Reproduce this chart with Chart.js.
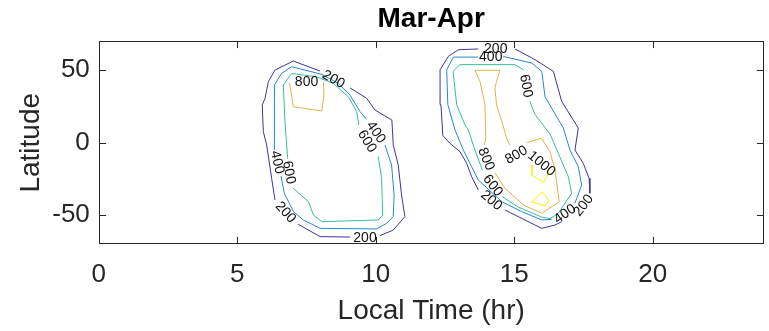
<!DOCTYPE html>
<html>
<head>
<meta charset="utf-8">
<script src="https://cdn.jsdelivr.net/npm/chart.js@4.4.1/dist/chart.umd.min.js"></script>
<style>
  html, body { margin: 0; padding: 0; background: #fff; }
  #wrap { width: 769px; height: 331px; }
</style>
</head>
<body>
<div id="wrap"><canvas id="chart" width="769" height="331"></canvas></div>
<script>
// axis ticks
const xTicks = [0, 5, 10, 15, 20];
const yTicks = [-50, 0, 50];

// contour levels and their colours (parula)
const levels = [200, 400, 600, 800, 1000];
const levelColors = ["#3b3599", "#2387d9", "#35bca0", "#e0b44c", "#f5f20a"];

// contour lines, [local time, latitude]; null = break under a label
const leftC200 = [[9.07,37.9],[9.67,30.7],[9.97,22.6],[10.58,15.7],[10.63,-1.5],[10.81,-15.3],[10.93,-36],[11.05,-50.9],[10.63,-60.2],[10.15,-64],null,
  [9.07,-65],[7.99,-64.7],[7.2,-56.2],null,[6.36,-39.4],[6.24,-24.5],[6.06,-1.5],[5.94,7.7],[5.9,26],[6.0,30.6],[6.12,42.1],[6.36,50.2],[7.02,56.4],[7.99,49.5]];
const leftC400 = [[10.33,-1.5],[10.57,-15.3],[10.66,-36],[10.63,-50.9],[10.39,-55.5],[10.03,-59.4],[7.99,-59],[7.38,-53.2],[7.03,-47.5],[6.7,-35],[6.58,-23],null,
  [6.35,-5],[6.33,10],[6.33,26],[6.36,39.9],[6.6,47.9],[6.96,52.5],[8.05,47.2],[8.65,40.9],[9.07,32.9],[9.43,21.5],[9.67,16.2]];
const leftC600 = [[10.09,-9.6],[10.21,-24.5],[10.25,-49.8],[10.09,-53.2],[8.05,-54.4],[7.75,-49.8],[7.57,-40.6],[7.02,-31.4],null,
  [6.82,-11],[6.72,14.5],[6.66,39.9],[6.96,47.8],[7.87,45.5],[8.47,40.9],[9.01,31.7],[9.31,21.5],[9.39,12.3]];
const leftC800 = [[8.11,42.1],[8.13,33],[8.05,21.9],[7.02,24.9],[6.9,39.9],[6.88,41.5]];

const rightC200 = [[15.03,64.7],[15.75,57.3],[16.41,49.3],[16.71,28.6],[17.31,10.2],[17.19,-5],[17.49,-14.2],[17.7,-24.5],[17.73,-34.8],null,
  [16.71,-54.4],[16.47,-56.7],[15.99,-59],[15.39,-53.3],[14.66,-46.3],null,
  [13.7,-32.6],[13.46,-23.4],[13.28,-14.1],[13.04,-6.1],[12.68,-0.4],[12.42,5],[12.35,26.3],[12.32,50.4],[12.62,59.6],[12.98,64.2],[13.7,64.7]];
const rightC400 = [[14.6,59.6],[15.63,55],[15.99,49.3],[16.11,31.7],[16.77,10.2],[17.01,-5],[17.31,-16.5],[17.43,-29.2],[17.19,-41.7],null,
  [16.35,-52.8],[15.99,-53.2],[15.27,-47.5],[14.55,-40.6],[13.7,-25.7],[13.46,-16.5],[13.16,-5],[12.86,8.8],[12.6,26.3],[12.56,50.3],[12.8,59.1],[13.7,59.1]];
const rightC600 = [[15.56,28.6],[15.75,19.4],[16.29,6],[16.59,-7.3],[16.95,-23.4],[17.07,-34.8],[16.59,-48.6],[16.29,-52.3],[15.99,-51.2],[15.15,-44.4],[14.55,-37],null,
  [13.85,-19],[13.58,-5],[13.34,8.8],[13.22,12.4],[12.92,26.3],[12.79,49.3],[13.04,53.9],[15.03,53.9],[15.33,50.4]];
const rightC800 = [[13.92,-1.5],[13.97,3.3],[13.94,26.3],[13.76,42.4],[13.58,50],[14.48,50],[14.36,42.4],[14.3,37.8],[14.36,26],[14.55,14.8],[14.72,3.3],[14.84,-1.5],null,
  [15.45,0.1],[15.98,3.1],[16.29,-6.1],[16.47,-18.8],[16.62,-40.6],[15.99,-48.6],[15.33,-42.9],[14.66,-31.4],[14.3,-20.6]];
const rightC1000a = [[15.63,-15.3],[15.63,-22.2],[16.05,-27.5],[16.23,-21],[16.23,-19]];
const rightC1000b = [[15.63,-40.6],[16.01,-33.7],[16.25,-39.9],[16.11,-43.6],[15.63,-40.6]];

// contour labels: [local time, latitude, text, angle in degrees]
const contourLabels = [
  [8.47, 43.6, "200", 29],
  [6.74, -48, "200", 47],
  [9.61, -65.8, "200", 0],
  [6.44, -13.5, "400", 77],
  [10.0, 7.2, "400", 55],
  [9.68, 1, "600", 59],
  [6.86, -20.5, "600", 80],
  [7.5, 41.6, "800", 0],
  [14.33, 64.6, "200", 0],
  [14.17, -39.8, "200", 40],
  [17.5, -43.2, "200", -52],
  [14.15, 59, "400", 0],
  [16.83, -49.2, "400", -35],
  [15.42, 39.2, "600", 80],
  [14.22, -29.5, "600", 52],
  [13.98, -11.2, "800", 68],
  [15.08, -8.5, "800", -30],
  [15.98, -14.5, "1000", 40]
];

const contours = [
  [leftC200, 200], [leftC400, 400], [leftC600, 600], [leftC800, 800],
  [rightC200, 200], [rightC400, 400], [rightC600, 600], [rightC800, 800],
  [rightC1000a, 1000], [rightC1000b, 1000]
];

const FONT = '"Liberation Sans", Helvetica, Arial, sans-serif';
const AXIS_COLOR = "#262626";

function toPoints(line) {
  return line.map(p => p ? { x: p[0], y: p[1] } : { x: null, y: null });
}

const datasets = contours.map(([line, lvl]) => ({
  data: toPoints(line),
  showLine: true,
  borderColor: levelColors[levels.indexOf(lvl)],
  borderWidth: 1,
  pointRadius: 0,
  tension: 0,
  fill: false,
  spanGaps: false
}));

// box, inward ticks and contour labels
const boxPlugin = {
  id: "box",
  afterDatasetsDraw(chart) {
    const { ctx, chartArea: a, scales: { x, y } } = chart;
    ctx.save();

    ctx.font = "14px " + FONT;
    ctx.fillStyle = "#111";
    ctx.textAlign = "center";
    ctx.textBaseline = "middle";
    contourLabels.forEach(([lx, ly, txt, ang]) => {
      ctx.save();
      ctx.translate(x.getPixelForValue(lx), y.getPixelForValue(ly));
      ctx.rotate(ang * Math.PI / 180);
      ctx.fillText(txt, 0, 0);
      ctx.restore();
    });

    ctx.strokeStyle = AXIS_COLOR;
    ctx.lineWidth = 1;
    const L = Math.round(a.left) + 0.5, R = Math.round(a.right) - 0.5;
    const T = Math.round(a.top) + 0.5, B = Math.round(a.bottom) - 0.5;
    ctx.strokeRect(L, T, R - L, B - T);

    const tl = 6.6;
    ctx.beginPath();
    xTicks.forEach(v => {
      const px = Math.round(x.getPixelForValue(v)) + 0.5;
      ctx.moveTo(px, B); ctx.lineTo(px, B - tl);
      ctx.moveTo(px, T); ctx.lineTo(px, T + tl);
    });
    yTicks.forEach(v => {
      const py = Math.round(y.getPixelForValue(v)) + 0.5;
      ctx.moveTo(L, py); ctx.lineTo(L + tl, py);
      ctx.moveTo(R, py); ctx.lineTo(R - tl, py);
    });
    ctx.stroke();
    ctx.restore();
  }
};

new Chart(document.getElementById("chart"), {
  type: "scatter",
  data: { datasets },
  options: {
    responsive: false,
    animation: false,
    events: [],
    layout: { padding: { left: 0, right: 5.4, top: 0, bottom: 0 } },
    plugins: {
      legend: { display: false },
      tooltip: { enabled: false },
      title: {
        display: true,
        text: "Mar-Apr",
        fullSize: false,
        color: "#000",
        font: { family: FONT, size: 28, weight: "bold" },
        padding: { top: 2, bottom: 5.7 }
      }
    },
    scales: {
      x: {
        type: "linear",
        min: 0,
        max: 24,
        grid: { display: false, drawTicks: false },
        border: { display: false },
        afterBuildTicks: s => { s.ticks = xTicks.map(v => ({ value: v })); },
        afterFit: s => { s.height = 86.7; },
        ticks: {
          color: AXIS_COLOR,
          padding: 15,
          maxRotation: 0,
          font: { family: FONT, size: 26 }
        },
        title: {
          display: true,
          text: "Local Time (hr)",
          color: AXIS_COLOR,
          font: { family: FONT, size: 28 },
          padding: { top: 0, bottom: 3 }
        }
      },
      y: {
        type: "linear",
        min: -70,
        max: 70,
        grid: { display: false, drawTicks: false },
        border: { display: false },
        afterBuildTicks: s => { s.ticks = yTicks.map(v => ({ value: v })); },
        afterFit: s => { s.width = 98.8; },
        ticks: {
          color: AXIS_COLOR,
          padding: 9,
          font: { family: FONT, size: 26 }
        },
        title: {
          display: true,
          text: "Latitude",
          color: AXIS_COLOR,
          font: { family: FONT, size: 28 },
          padding: { top: 14, bottom: 0 }
        }
      }
    }
  },
  plugins: [boxPlugin]
});
</script>
</body>
</html>
